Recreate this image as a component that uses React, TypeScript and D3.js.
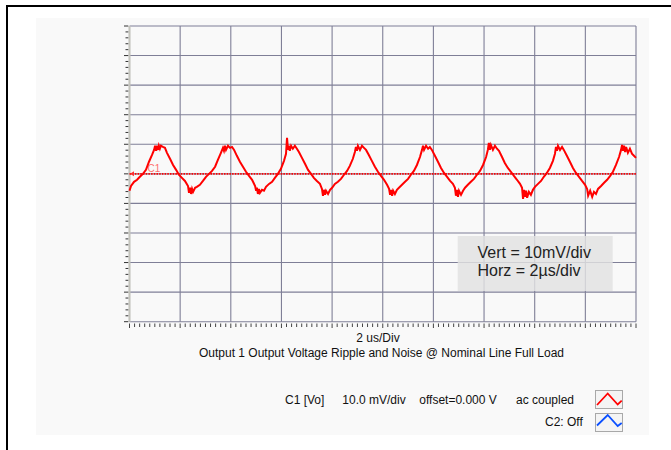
import React from "react";
import * as d3 from "d3";

// Trace C1 [Vo]: time (µs) and voltage (mV), read from the scope capture
const traceTime = [
  0, 0.06, 0.18, 0.3, 0.41, 0.53, 0.65, 0.77, 0.89, 0.97, 1.01, 1.05, 1.09, 1.13, 1.16, 1.2, 1.24, 1.32, 1.4, 1.48, 1.6, 1.72, 1.84, 1.95, 2.07, 2.19, 2.31, 2.35, 2.39, 2.43, 2.47, 2.51, 2.59, 2.66, 2.78, 2.9, 3.02, 3.14, 3.26, 3.38, 3.49, 3.61, 3.69, 3.73, 3.77, 3.81, 3.89, 3.97, 4.05, 4.13, 4.24, 4.36, 4.48, 4.6, 4.72, 4.84, 4.96, 5.0, 5.03, 5.07, 5.11, 5.15, 5.23, 5.31, 5.39, 5.51, 5.63, 5.74, 5.86, 5.98, 6.1, 6.18, 6.22, 6.26, 6.29, 6.33, 6.38, 6.45, 6.53, 6.61, 6.69, 6.81, 6.93, 7.05, 7.17, 7.28, 7.4, 7.52, 7.6, 7.64, 7.68, 7.72, 7.76, 7.84, 7.92, 8.0, 8.11, 8.23, 8.35, 8.47, 8.59, 8.7, 8.82, 8.9, 8.94, 8.98, 9.02, 9.1, 9.18, 9.26, 9.34, 9.45, 9.57, 9.69, 9.81, 9.93, 10.05, 10.17, 10.25, 10.29, 10.33, 10.37, 10.41, 10.48, 10.56, 10.64, 10.76, 10.88, 11.0, 11.11, 11.23, 11.35, 11.47, 11.55, 11.59, 11.63, 11.71, 11.79, 11.86, 11.94, 12.06, 12.18, 12.3, 12.42, 12.54, 12.66, 12.77, 12.85, 12.89, 12.93, 12.97, 13.01, 13.09, 13.17, 13.25, 13.36, 13.48, 13.6, 13.72, 13.84, 13.96, 14.08, 14.15, 14.19, 14.23, 14.27, 14.35, 14.43, 14.51, 14.59, 14.71, 14.82, 14.94, 15.06, 15.18, 15.3, 15.42, 15.5, 15.54, 15.58, 15.62, 15.66, 15.7, 15.77, 15.85, 15.93, 16.01, 16.13, 16.25, 16.36, 16.48, 16.6, 16.72, 16.8, 16.84, 16.88, 16.92, 17.0, 17.08, 17.15, 17.27, 17.39, 17.51, 17.63, 17.75, 17.87, 17.99, 18.07, 18.11, 18.19, 18.27, 18.34, 18.42, 18.5, 18.62, 18.74, 18.86, 18.98, 19.09, 19.21, 19.33, 19.41, 19.45, 19.49, 19.53, 19.57, 19.61, 19.68, 19.76, 19.84, 19.92, 20.0,
];
const traceMv = [
  -5.7, -4.1, -2.7, -2.0, -1.0, 0, 1.35, 4.1, 6.4, 8.1, 9.5, 7.8, 9.5, 8.1, 9.5, 8.5, 9.5, 9.1, 8.8, 7.1, 5.1, 3.0, 1.35, -0.3, -1.35, -2.4, -4.1, -6.4, -4.7, -6.8, -5.1, -6.1, -4.7, -4.4, -3.7, -2.4, -1.0, 0, 1.0, 2.4, 4.7, 7.1, 8.8, 7.8, 9.5, 8.1, 9.5, 8.8, 9.1, 8.1, 6.1, 4.1, 2.4, 0.7, -0.7, -2.0, -4.1, -5.7, -4.7, -6.8, -5.1, -6.4, -5.4, -5.7, -4.4, -3.4, -2.7, -1.35, 0, 1.7, 4.4, 6.8, 12.2, 8.1, 9.5, 7.8, 9.5, 8.5, 9.5, 8.5, 7.4, 5.4, 3.4, 1.35, 0, -1.35, -2.4, -3.4, -5.1, -7.4, -5.4, -7.1, -5.7, -6.8, -5.4, -4.7, -3.4, -2.7, -1.7, -0.3, 1.0, 2.7, 5.1, 7.4, 9.1, 7.8, 9.5, 8.1, 9.5, 8.8, 8.1, 6.4, 4.4, 2.4, 0.7, -0.7, -2.0, -3.7, -5.1, -7.1, -5.4, -7.4, -5.7, -6.8, -5.4, -4.7, -3.7, -2.7, -1.7, -0.3, 1.0, 3.0, 5.7, 8.1, 9.5, 8.1, 9.5, 8.5, 9.1, 8.1, 6.1, 4.1, 2.0, 0.3, -1.0, -2.4, -3.4, -4.7, -7.4, -5.4, -7.8, -5.7, -7.1, -5.7, -4.7, -3.7, -2.7, -1.7, -0.3, 1.0, 3.0, 5.7, 8.1, 10.5, 8.1, 9.8, 8.1, 9.5, 8.5, 7.8, 5.7, 3.7, 2.0, 0.7, -0.7, -2.0, -3.4, -4.7, -8.5, -5.4, -7.8, -5.7, -8.1, -6.1, -7.1, -5.4, -4.4, -3.4, -2.4, -1.0, 0.3, 2.0, 4.4, 6.8, 9.1, 7.8, 9.5, 8.1, 9.1, 8.1, 6.1, 4.1, 2.0, 0.3, -1.0, -2.4, -3.7, -5.1, -7.4, -5.7, -7.8, -6.1, -6.8, -5.1, -4.1, -3.0, -2.0, -0.7, 0.7, 3.0, 5.7, 8.1, 9.8, 7.8, 9.5, 7.4, 9.1, 7.1, 8.5, 6.8, 6.1, 5.4,
];

// Axis divisions
const timeDivs = [0, 2, 4, 6, 8, 10, 12, 14, 16, 18, 20]; // µs
const voltDivs = [-50, -40, -30, -20, -10, 0, 10, 20, 30, 40, 50]; // mV

// Texts
const xAxisLabel = "2 us/Div";
const caption = "Output 1 Output Voltage Ripple and Noise @ Nominal Line Full Load";
const scaleNote = ["Vert = 10mV/div", "Horz = 2µs/div"];
const c1Parts = ["C1 [Vo]", "10.0 mV/div", "offset=0.000 V", "ac coupled"];
const c2Label = "C2: Off";

export default function App() {
  const x = d3.scaleLinear().domain([0, 20]).range([129.5, 636]);
  const y = d3.scaleLinear().domain([-50, 50]).range([321.7, 26]);

  const pts: [number, number][] = traceTime.map((t, i) => [t, traceMv[i]]);
  const line = d3
    .line<[number, number]>()
    .x((d) => x(d[0]))
    .y((d) => y(d[1]));

  const minorY = d3.range(-50, 50.001, 2);
  const minorX = d3.range(0, 20.001, 0.2);

  const uiFont = "'Liberation Sans', Arial, sans-serif";

  return (
    <svg
      width={671}
      height={450}
      style={{ position: "absolute", left: 0, top: 0, background: "#fff" }}
    >
      {/* outer frame */}
      <rect x={7} y={6} width={700} height={500} fill="none" stroke="#000" strokeWidth={2} />
      {/* panel */}
      <rect x={36} y={18} width={613} height={417} fill="#f9f9f9" />

      {/* grid */}
      {timeDivs.map((t) => (
        <line key={"gx" + t} x1={x(t)} x2={x(t)} y1={y(50)} y2={y(-50)} stroke="#7f7f97" strokeWidth={1.1} />
      ))}
      {voltDivs.map((v) => (
        <line key={"gy" + v} x1={x(0)} x2={x(20)} y1={y(v)} y2={y(v)} stroke="#7f7f97" strokeWidth={1.1} />
      ))}
      {/* left axis bar */}
      <line x1={x(0)} x2={x(0)} y1={y(50)} y2={y(-50)} stroke="#c4c4bc" strokeWidth={2} />

      {/* left ticks */}
      {minorY.map((v, i) => (
        <line
          key={"ty" + i}
          x1={i % 5 === 0 ? 124 : 125.5}
          x2={128.3}
          y1={y(v)}
          y2={y(v)}
          stroke="#333"
          strokeWidth={1}
        />
      ))}
      {/* bottom ticks */}
      {minorX.map((t, i) => (
        <line
          key={"tx" + i}
          x1={x(t)}
          x2={x(t)}
          y1={323.5}
          y2={i % 10 === 0 ? 328 : 327}
          stroke="#444"
          strokeWidth={1}
        />
      ))}

      {/* annotation box */}
      <rect x={457.7} y={236} width={155} height={55} fill="#e2e2e2" fillOpacity={0.82} />
      {scaleNote.map((s, i) => (
        <text key={s} x={477.5} y={258 + i * 18} fontFamily={uiFont} fontSize={16} fill="#222">
          {s}
        </text>
      ))}

      {/* zero reference */}
      <line
        x1={x(0)}
        x2={x(20)}
        y1={y(0)}
        y2={y(0)}
        stroke="#ff0000"
        strokeWidth={1.6}
        strokeDasharray="1.5,1.2"
      />
      <path d={`M${x(0) + 0.5},${y(0)} l4,-2.5 l0,5 z`} fill="#ff3030" />
      <text x={147.5} y={171.5} fontFamily={uiFont} fontSize={10} fill="#ff7070">
        C1
      </text>

      {/* trace */}
      <path d={line(pts) || ""} fill="none" stroke="#ff0000" strokeWidth={2} strokeLinejoin="miter" />

      {/* axis caption */}
      <text x={378} y={341.5} textAnchor="middle" fontFamily={uiFont} fontSize={12} fill="#111">
        {xAxisLabel}
      </text>
      <text x={381.5} y={357} textAnchor="middle" fontFamily={uiFont} fontSize={12} fill="#111">
        {caption}
      </text>

      {/* legend */}
      {c1Parts.map((p, i) => (
        <text key={p} x={[285, 342.3, 419.3, 516][i]} y={403.5} fontFamily={uiFont} fontSize={12} fill="#111">
          {p}
        </text>
      ))}
      <text x={545} y={426} fontFamily={uiFont} fontSize={12} fill="#111">
        {c2Label}
      </text>
      <rect x={595.5} y={390.5} width={27} height={18} fill="#f4f4f4" stroke="#a8a8a8" strokeWidth={1} />
      <polyline
        points="597,405 607.7,393.5 617.7,404.5 621.7,400.7"
        fill="none"
        stroke="#ff0000"
        strokeWidth={1.8}
      />
      <rect x={595.5} y={413.5} width={27} height={18} fill="#f4f4f4" stroke="#a8a8a8" strokeWidth={1} />
      <polyline
        points="597,425.5 607.7,415 617.7,426 621.7,423"
        fill="none"
        stroke="#0a4fff"
        strokeWidth={1.8}
      />
    </svg>
  );
}
